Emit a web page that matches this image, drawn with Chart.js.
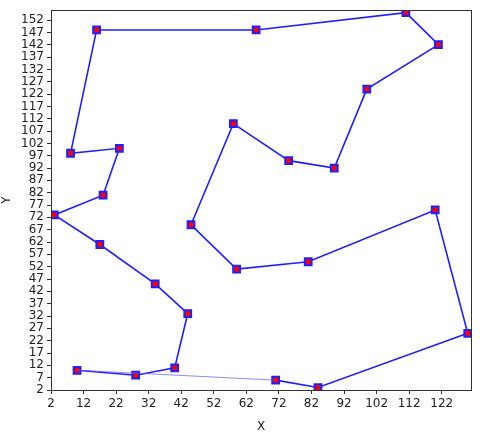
<!DOCTYPE html>
<html>
<head>
<meta charset="utf-8">
<script src="https://cdn.jsdelivr.net/npm/chart.js@4/dist/chart.umd.min.js"></script>
<style>
  html, body { margin: 0; padding: 0; background: #fff; }
</style>
</head>
<body>
<canvas id="tour" width="480" height="440"></canvas>
<script>
// tour order
const xs = [10, 28, 40, 44, 34, 17, 3, 18, 23, 8, 16, 65, 111, 121, 99, 89, 75, 58, 45, 59, 81, 120, 130, 84, 71];
const ys = [10, 8, 11, 33, 45, 61, 73, 81, 100, 98, 148, 148, 155, 142, 124, 92, 95, 110, 69, 51, 54, 75, 25, 3, 6];

const xTicks = [2, 12, 22, 32, 42, 52, 62, 72, 82, 92, 102, 112, 122];
const yTicks = [2, 7, 12, 17, 22, 27, 32, 37, 42, 47, 52, 57, 62, 67, 72, 77, 82, 87, 92, 97,
  102, 107, 112, 117, 122, 127, 132, 137, 142, 147, 152];

const path = xs.map((x, i) => ({ x: x, y: ys[i] }));
// the return leg is drawn thinner
const back = [path[path.length - 1], path[0]];

const frame = {
  id: 'frame',
  afterDatasetsDraw(chart) {
    const a = chart.chartArea;
    const ctx = chart.ctx;
    ctx.save();
    ctx.strokeStyle = '#333';
    ctx.lineWidth = 1;
    ctx.strokeRect(Math.round(a.left) + 0.5, Math.round(a.top) + 0.5,
      Math.round(a.right - a.left), Math.round(a.bottom - a.top));
    ctx.restore();
  }
};

const tickFont = { family: 'DejaVu Sans', size: 12 };

new Chart(document.getElementById('tour'), {
  type: 'scatter',
  data: {
    datasets: [
      {
        data: back,
        showLine: true,
        borderColor: 'rgba(90,90,255,0.7)',
        borderWidth: 1,
        pointRadius: 0
      },
      {
        data: path,
        showLine: true,
        borderColor: '#1f1fff',
        borderWidth: 1.6,
        pointStyle: 'rect',
        pointRadius: 4.8,
        pointHoverRadius: 4.8,
        pointBackgroundColor: '#ff0000',
        pointBorderColor: '#2020ff',
        pointBorderWidth: 2
      }
    ]
  },
  options: {
    responsive: false,
    animation: false,
    devicePixelRatio: 1,
    layout: { padding: { top: 9, right: 9, left: 0, bottom: 6 } },
    plugins: { legend: { display: false }, tooltip: { enabled: false } },
    scales: {
      x: {
        type: 'linear',
        min: 2,
        max: 131,
        afterBuildTicks: s => { s.ticks = xTicks.map(v => ({ value: v })); },
        afterFit: s => { s.height = 44; },
        grid: { drawOnChartArea: false, drawTicks: true, tickLength: 4, color: '#333' },
        border: { display: false },
        ticks: { autoSkip: false, maxRotation: 0, padding: 3, color: '#222', font: tickFont },
        title: { display: true, text: 'X', color: '#222', font: { family: 'DejaVu Sans', size: 12 }, padding: { top: 2, bottom: 0 } }
      },
      y: {
        type: 'linear',
        min: 2,
        max: 156,
        afterBuildTicks: s => { s.ticks = yTicks.map(v => ({ value: v })); },
        afterFit: s => { s.width = 51; },
        grid: { drawOnChartArea: false, drawTicks: true, tickLength: 4, color: '#333' },
        border: { display: false },
        ticks: { autoSkip: false, padding: 3, color: '#222', font: tickFont },
        title: { display: true, text: 'Y', color: '#222', font: { family: 'DejaVu Sans', size: 12 }, padding: { top: 0, bottom: 0 } }
      }
    }
  },
  plugins: [frame]
});
</script>
</body>
</html>
